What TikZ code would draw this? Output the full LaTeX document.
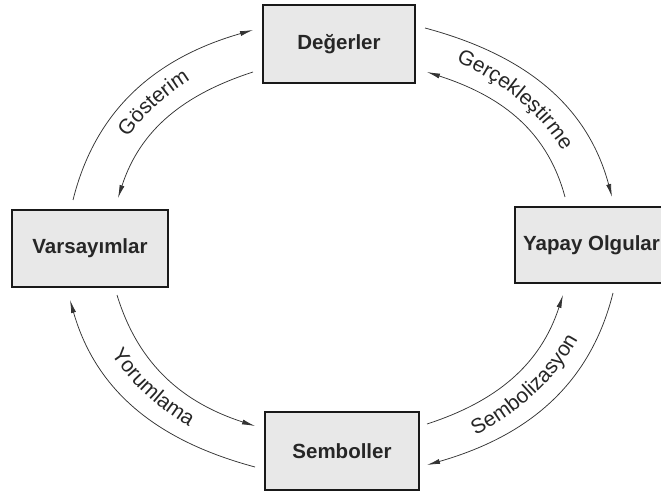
\documentclass[tikz,border=0pt]{standalone}
\usepackage{fontspec}
\setmainfont{Liberation Sans}
\usetikzlibrary{calc,arrows.meta,decorations.text}
\newcommand\arclabelfont{\fontsize{21}{25}\selectfont}
\begin{document}
\begin{tikzpicture}[x=1pt,y=1pt,
  box/.style={draw=black!90, line width=2.6pt, fill=black!9, inner sep=0pt, outer sep=0pt,
    font=\fontsize{20.5}{24}\selectfont\bfseries, text=black!85},
  flow/.style={draw=black!80, line width=0.75pt, -{Latex[length=13pt,width=5pt]}},
  arclabel/.style={decorate, decoration={text along path, text align=center,
    text color=black!85, text={|\arclabelfont|#1}}},
]
\clip (0,0) rectangle (661,493);
\useasboundingbox (0,0) rectangle (661,493);

% the four stations of the cycle
\node[box, minimum width=152, minimum height=78] (D)  at (339,449)   {Değerler};
\node[box, minimum width=156, minimum height=77] (V)  at (90,244.5)  {Varsayımlar};
\node[box, minimum width=153, minimum height=76] (Yp) at (591.5,248) {Yapay Olgular};
\node[box, minimum width=154, minimum height=78] (S)  at (342,42)    {Semboller};

% centre of the elliptical cycle
\coordinate (c) at (340,246);

% outer (clockwise) and inner (counter-clockwise) flows
\draw[flow] ($(V.north)+(-17,10)$)   to[out=76,in=196]  ($(D.west)+(-10,14)$);
\draw[flow] ($(D.west)+(-10,-28)$)   to[out=198,in=72]  ($(V.north)+(28,12)$);
\draw[flow] ($(D.east)+(10,16)$)     to[out=-15,in=105] ($(Yp.north)+(20.5,10)$);
\draw[flow] ($(Yp.north)+(-26.5,10)$) to[out=105,in=-18] ($(D.east)+(12,-28)$);
\draw[flow] ($(Yp.south)+(21.5,-10)$) to[out=256,in=16] ($(S.east)+(8,-14)$);
\draw[flow] ($(S.east)+(8,27)$)      to[out=18,in=252]  ($(Yp.south)+(-28.5,-12)$);
\draw[flow] ($(S.west)+(-10,-16)$)   to[out=165,in=-74] ($(V.south)+(-20,-13)$);
\draw[flow] ($(V.south)+(27,-8)$)    to[out=-73,in=162] ($(S.west)+(-10,25)$);

% curved labels between the flows
\path[arclabel={Gösterim}] (c) ++(180:250 and 208)
  arc[start angle=180, end angle=99, x radius=250, y radius=208];
\path[arclabel={Gerçekleştirme}] (c) ++(86:251 and 209)
  arc[start angle=86, end angle=0, x radius=251, y radius=209];
\path[arclabel={Sembolizasyon}] (c) ++(-82:262 and 220)
  arc[start angle=-82, end angle=2, x radius=262, y radius=220];
\path[arclabel={Yorumlama}] (c) ++(178:262 and 220)
  arc[start angle=178, end angle=262, x radius=262, y radius=220];
\end{tikzpicture}
\end{document}
